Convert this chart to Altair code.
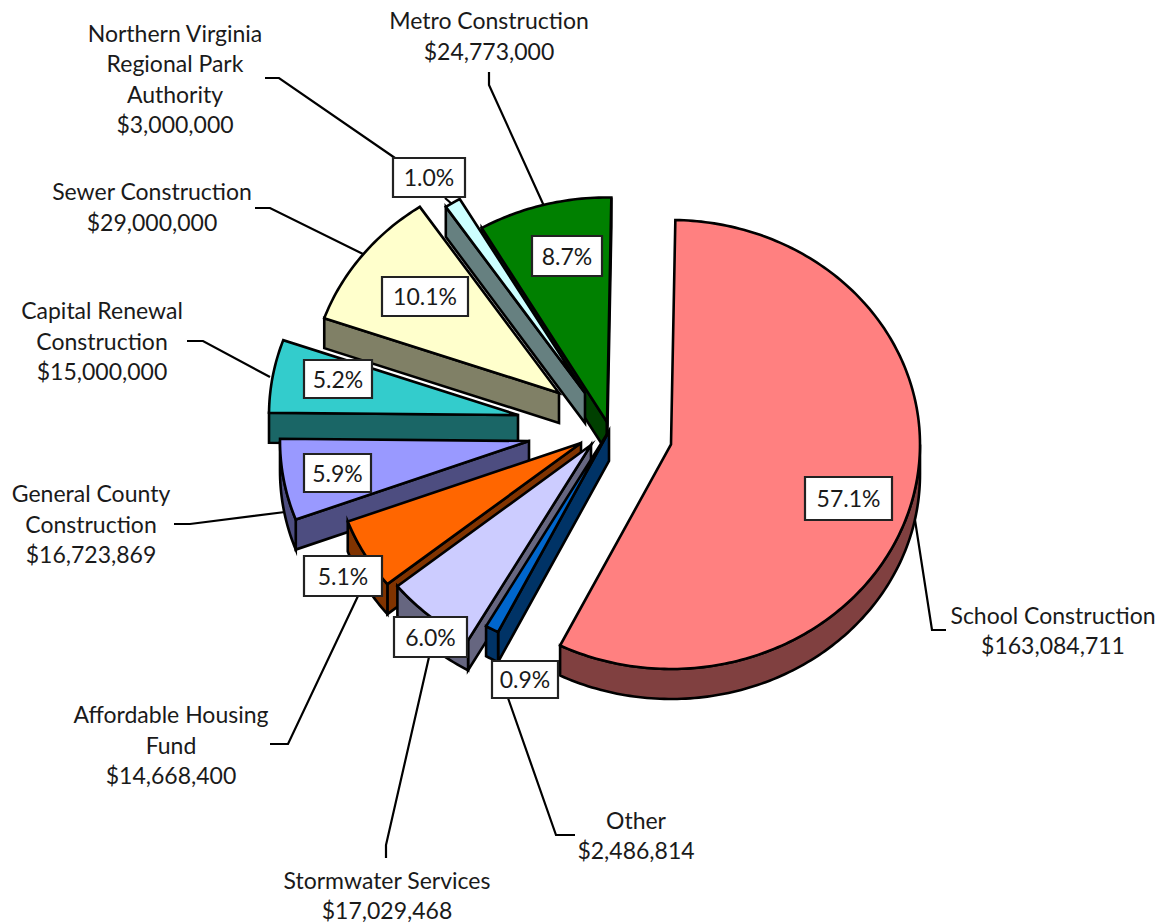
import math
import altair as alt
import pandas as pd

# ---- values ----
names = ["School Construction", "Other", "Stormwater Services", "Affordable Housing Fund",
         "General County Construction", "Capital Renewal Construction", "Sewer Construction",
         "Northern Virginia Regional Park Authority", "Metro Construction"]
amounts = [163084711, 2486814, 17029468, 14668400, 16723869, 15000000, 29000000, 3000000, 24773000]
top_colors = ["#FF8080", "#0066CC", "#CCCCFF", "#FF6600", "#9999FF", "#33CCCC", "#FFFFCC", "#CCFFFF", "#008000"]
side_colors = ["#804040", "#003366", "#666680", "#803300", "#4D4D80", "#1A6666", "#808066", "#668080", "#004000"]
# exploded wedge tips
tip_x = [671, 609, 591, 581, 529, 518, 559, 585, 607]
tip_y = [444.5, 431, 445, 443, 441, 415, 393, 393, 422]
# drawing order, back to front
draw_order = [8, 7, 6, 5, 4, 3, 2, 1, 0]

pct_labels = ["57.1%", "0.9%", "6.0%", "5.1%", "5.9%", "5.2%", "10.1%", "1.0%", "8.7%"]
box_x1 = [805, 492, 394, 304, 304, 304, 382, 393, 532]
box_x2 = [892, 558, 467, 382, 371, 372, 468, 465, 602]
box_y1 = [477, 661, 617, 556, 454, 360, 277, 158, 236]
box_y2 = [520, 698, 657, 596, 492, 398, 316, 197, 276]

label_lines = [
    ("Metro Construction", 489, 20), ("$24,773,000", 489, 51),
    ("Northern Virginia", 175, 33), ("Regional Park", 175, 63), ("Authority", 175, 94), ("$3,000,000", 175, 124),
    ("Sewer Construction", 152, 191), ("$29,000,000", 152, 222),
    ("Capital Renewal", 102, 310), ("Construction", 102, 341), ("$15,000,000", 102, 371),
    ("General County", 91, 493), ("Construction", 91, 524), ("$16,723,869", 91, 554),
    ("Affordable Housing", 171, 714), ("Fund", 171, 745), ("$14,668,400", 171, 775),
    ("Stormwater Services", 387, 880), ("$17,029,468", 387, 910),
    ("Other", 636, 820), ("$2,486,814", 636, 850),
    ("School Construction", 1053, 615), ("$163,084,711", 1053, 645),
]
leaders = {
    "School": [(915, 520), (932, 630), (946, 630)],
    "Other": [(508, 698), (556, 835), (575, 835)],
    "Storm": [(429, 657), (386, 845), (386, 858)],
    "Afford": [(358, 596), (288, 744), (270, 744)],
    "General": [(285, 512), (190, 524), (174, 524)],
    "Capital": [(270, 377), (203, 341), (187, 341)],
    "Sewer": [(363, 254), (270, 208), (255, 208)],
    "Park": [(395, 158), (279, 78), (265, 78)],
    "Park2": [(445, 198), (452, 204)],
    "Metro": [(544, 206), (489, 85), (489, 72)],
}

W, H = 1148, 916
RX, RY, DEPTH = 249, 224.5, 30
START_DEG = 1.0

total = sum(amounts)


def pt(i, deg):
    r = math.radians(deg)
    return (tip_x[i] + RX * math.sin(r), tip_y[i] - RY * math.cos(r))


def feature(ring, fill):
    ring = [list(p) for p in ring]
    ring.append(ring[0])
    return {"type": "Feature", "properties": {"fill": fill},
            "geometry": {"type": "Polygon", "coordinates": [ring]}}


def arc_pts(i, a, b):
    n = max(2, int(abs(b - a)) + 2)
    return [pt(i, a + (b - a) * k / (n - 1)) for k in range(n)]


# wedge angles from the amounts, clockwise from the start angle
spans = []
cur = START_DEG
for a in amounts:
    sweep = a / total * 360
    spans.append((cur, cur + sweep))
    cur += sweep

features = []
for i in draw_order:
    a, b = spans[i]
    tip = (tip_x[i], tip_y[i])
    m = pt(i, (a + b) / 2)
    sides = []
    for deg in (a, b):
        e = pt(i, deg)
        dx, dy = e[0] - tip[0], e[1] - tip[1]
        nx, ny = -dy, dx
        if nx * (m[0] - tip[0]) + ny * (m[1] - tip[1]) > 0:
            nx, ny = -nx, -ny
        if ny > 0:
            sides.append([tip, e, (e[0], e[1] + DEPTH), (tip[0], tip[1] + DEPTH)])
    # outer rim faces down between 90 and 270 degrees clockwise from the top
    lo, hi = max(a, 90), min(b, 270)
    if hi > lo:
        rim = arc_pts(i, lo, hi)
        sides.append(rim + [(x, y + DEPTH) for x, y in reversed(rim)])
    for s in sides:
        features.append(feature(s, side_colors[i]))
    features.append(feature([tip] + arc_pts(i, a, b), top_colors[i]))

x_scale = alt.Scale(domain=[8, W + 8], nice=False, zero=False)
y_scale = alt.Scale(domain=[H + 8, 8], nice=False, zero=False)
x_enc = alt.X("x:Q", axis=None, scale=x_scale)
y_enc = alt.Y("y:Q", axis=None, scale=y_scale)

leader_df = pd.DataFrame([{"id": k, "n": n, "x": p[0], "y": p[1]}
                          for k, pts in leaders.items() for n, p in enumerate(pts)])
leader_layer = alt.Chart(leader_df).mark_line(color="black", strokeWidth=2.2, strokeJoin="miter").encode(
    x=x_enc, y=y_enc, detail="id:N", order="n:Q")

pie_layer = alt.Chart(alt.Data(values=features)).mark_geoshape(
    stroke="black", strokeWidth=2.6, strokeJoin="miter", strokeMiterLimit=6
).encode(fill=alt.Fill("properties.fill:N", scale=None)).project(
    type="identity", scale=1, translate=[-8, -8])

box_df = pd.DataFrame({"x": box_x1, "x2": box_x2, "y": box_y1, "y2": box_y2, "t": pct_labels})
box_df["cx"] = (box_df.x + box_df.x2) / 2
box_df["cy"] = (box_df.y + box_df.y2) / 2
box_layer = alt.Chart(box_df).mark_rect(fill="white", stroke="#222222", strokeWidth=2.2).encode(
    x=x_enc, x2="x2:Q", y=y_enc, y2="y2:Q")
FONT = "Lato"
FS = 23
pct_layer = alt.Chart(box_df).mark_text(font=FONT, fontSize=FS, color="#1a1a1a", baseline="middle", align="center", dy=1.5).encode(
    x=alt.X("cx:Q", axis=None, scale=x_scale), y=alt.Y("cy:Q", axis=None, scale=y_scale), text="t:N")

label_df = pd.DataFrame(label_lines, columns=["t", "x", "y"])
label_layer = alt.Chart(label_df).mark_text(font=FONT, fontSize=FS, color="#1a1a1a", baseline="middle", align="center", dy=2).encode(
    x=x_enc, y=y_enc, text="t:N")

chart = alt.layer(leader_layer, pie_layer, box_layer, pct_layer, label_layer).properties(
    width=W, height=H, padding=0, autosize=alt.AutoSizeParams(type="none")
).configure_view(stroke=None)

chart.save("out.html", embed_options={"renderer": "svg", "actions": False})
